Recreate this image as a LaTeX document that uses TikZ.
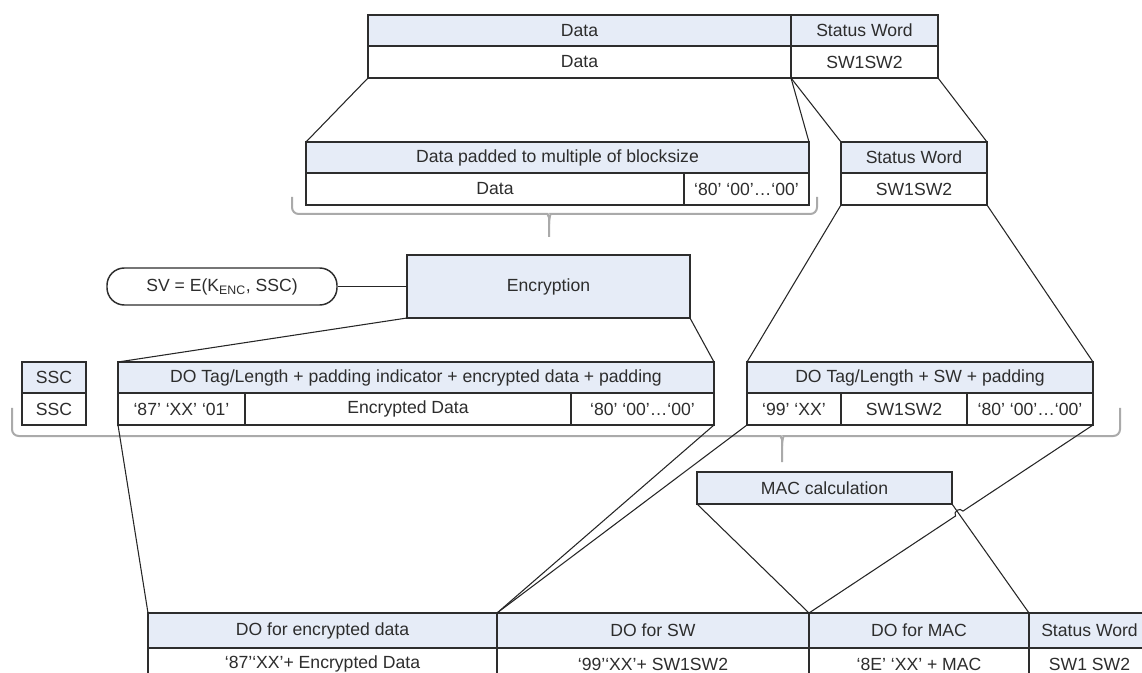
\documentclass[tikz,border=0pt]{standalone}
\usepackage{fontspec}
\setmainfont{Liberation Sans}
\usetikzlibrary{positioning, calc}
\usepackage{xcolor}

\definecolor{hdblue}{RGB}{230,236,247}
\definecolor{ink}{RGB}{45,45,45}
\definecolor{brgray}{RGB}{170,170,170}

\tikzset{
  cw/.style={minimum width=#1*0.75pt},
  hd/.style={draw=ink, fill=hdblue, line width=1.1pt, inner sep=0pt, outer sep=0pt, minimum height=31*0.75pt},
  cl/.style={draw=ink, fill=white, line width=1.1pt, inner sep=0pt, outer sep=0pt, minimum height=32*0.75pt},
  pill/.style={draw=ink, line width=1.1pt, rounded corners=13pt, inner sep=0pt},
  brc/.style={draw=brgray, line width=1.5pt, rounded corners=5pt},
  lnk/.style={draw=black!85, line width=0.8pt}
}

% curly brace: x left, x right, x tip, y ends, y bar, y tip
\newcommand{\ybrace}[6]{%
  \draw[brc] (#1,#4) -- (#1,#5) -- (#3-8,#5) .. controls (#3-2,#5) and (#3,#5+3) .. (#3,#5+10) -- (#3,#6);
  \draw[brc] (#2,#4) -- (#2,#5) -- (#3+8,#5) .. controls (#3+2,#5) and (#3,#5+3) .. (#3,#5+10);
}

\begin{document}
\begin{tikzpicture}[x=0.75pt, y=-0.75pt, font=\fontsize{13.2}{15}\selectfont, text=ink]
  \useasboundingbox (0,0) rectangle (1142,673);
  \clip (0,0) rectangle (1142,673);

  % response data
  \node[hd, cw=423, anchor=north west] (dat) at (368,15) {Data};
  \node[hd, cw=147, right=0pt of dat] (sw) {Status Word};
  \node[cl, cw=423, below=0pt of dat] (datv) {Data};
  \node[cl, cw=147, below=0pt of sw] (swv) {SW1SW2};

  % padding
  \node[hd, cw=503, anchor=north west] (pad) at (306,142) {Data padded to multiple of blocksize};
  \node[cl, cw=378, anchor=north west] (padd) at (pad.south west) {Data};
  \node[cl, cw=125, right=0pt of padd] (padp) {`80' `00'\ldots`00'};
  \node[hd, cw=146, anchor=north west] (sw2) at (841,142) {Status Word};
  \node[cl, cw=146, below=0pt of sw2] (sw2v) {SW1SW2};

  \ybrace{292}{817}{549}{197}{214}{237}

  % encryption
  \node[pill, cw=230, minimum height=37*0.75pt] (sv) at (222,286.5) {SV = E(K\textsubscript{ENC}, SSC)};
  \node[hd, cw=283, minimum height=63*0.75pt, anchor=north west] (enc) at (407,255) {Encryption};

  % data objects
  \node[hd, cw=64, anchor=north west] (ssc) at (22,362) {SSC};
  \node[cl, cw=64, below=0pt of ssc] (sscv) {SSC};
  \node[hd, cw=596, anchor=north west] (do1) at (118,362) {DO Tag/Length + padding indicator + encrypted data + padding};
  \node[cl, cw=127, anchor=north west] (e1) at (do1.south west) {`87' `XX' `01'};
  \node[cl, cw=326, right=0pt of e1] (e2) {Encrypted Data};
  \node[cl, cw=143, right=0pt of e2] (e3) {`80' `00'\ldots`00'};
  \node[hd, cw=346, anchor=north west] (do2) at (747,362) {DO Tag/Length + SW + padding};
  \node[cl, cw=94, anchor=north west] (e4) at (do2.south west) {`99' `XX'};
  \node[cl, cw=126, right=0pt of e4] (e5) {SW1SW2};
  \node[cl, cw=126, right=0pt of e5] (e6) {`80' `00'\ldots`00'};

  \ybrace{12}{1120}{782}{408}{436}{462}

  \node[hd, cw=255, minimum height=32*0.75pt, anchor=north west] (mac) at (697,472) {MAC calculation};

  % protected response
  \node[hd, cw=349, minimum height=35*0.75pt, anchor=north west] (bde) at (148,613) {DO for encrypted data};
  \node[hd, cw=312, minimum height=35*0.75pt, right=0pt of bde] (bsw) {DO for SW};
  \node[hd, cw=220, minimum height=35*0.75pt, right=0pt of bsw] (bmac) {DO for MAC};
  \node[hd, cw=121, minimum height=35*0.75pt, right=0pt of bmac] (bst) {Status Word};
  \node[cl, cw=349, below=0pt of bde] (bdev) {`87'`XX'+ Encrypted Data};
  \node[cl, cw=312, below=0pt of bsw] (bswv) {`99'`XX'+ SW1SW2};
  \node[cl, cw=220, below=0pt of bmac] (bmacv) {`8E' `XX' + MAC};
  \node[cl, cw=121, below=0pt of bst] (bstv) {SW1 SW2};

  \path[lnk] (datv.south west) edge (pad.north west)
        (datv.south east) edge (pad.north east)
        (datv.south east) edge (sw2.north west)
        (swv.south east) edge (sw2.north east)
        (sv) edge (enc)
        (enc.south west) edge (do1.north west)
        (enc.south east) edge (do1.north east)
        (sw2v.south west) edge (do2.north west)
        (sw2v.south east) edge (do2.north east)
        (e1.south west) edge (bde.north west)
        (e3.south east) edge (bsw.north west)
        (e4.south west) edge (bsw.north west)
        (mac.south west) edge (bmac.north west)
        (mac.south east) edge (bmac.north east)
        ;
  % line hop over the MAC line
  \draw[lnk] (e6.south east) -- ($(e6.south east)!0.458!(bsw.north east)$)
        to[bend right=90, looseness=1.5] ($(e6.south east)!0.484!(bsw.north east)$) -- (bsw.north east);
\end{tikzpicture}
\end{document}
